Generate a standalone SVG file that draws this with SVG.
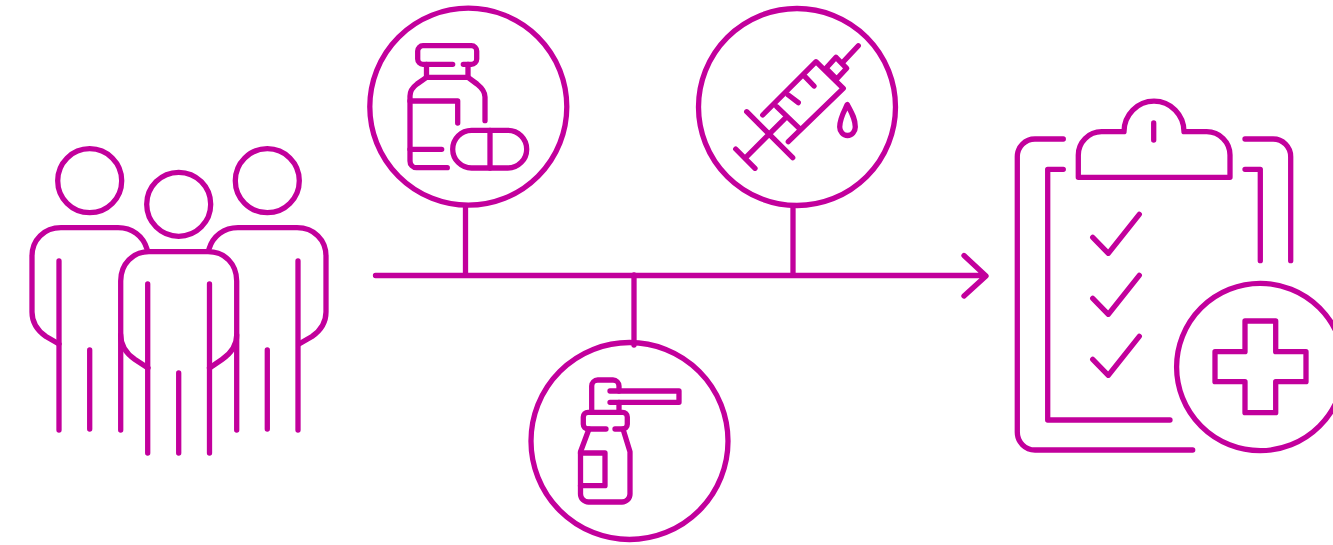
<svg xmlns="http://www.w3.org/2000/svg" width="1333" height="545" viewBox="0 0 1333 545">
<style>
.s{fill:none;stroke:#c2009c;stroke-width:5.300;stroke-linecap:round;stroke-linejoin:round}
</style>
<rect width="1333" height="545" fill="#fff"/>
<g id="connectors" class="s">
<path d="M375.500 275.500H985M964 255.500L986 276L964 296"/>
<path d="M465.500 207V275M793 207V275M634 275V345"/>
</g>
<g id="people" class="s">
<circle cx="89.700" cy="180.700" r="32"/>
<circle cx="178.700" cy="204.300" r="32"/>
<circle cx="267.300" cy="180.700" r="32"/>
<path d="M147 249C143 236 132 227.700 118 227.700H61C44 227.700 32 240 32 256V312C32 324 38 331 46 336.500L59 344"/>
<path d="M209 249C213 236 224 227.700 238 227.700H297C314 227.700 326 240 326 256V312C326 324 320 331 312 336.500L299 344"/>
<path d="M59 261V430M89.700 350V429M120.700 430V281C120.700 264 133 251.700 149 251.700H208C225 251.700 236.700 264 236.700 281V430"/>
<path d="M120.700 335C120.700 347 127 354 135 359.500L148 368M236.700 335C236.700 347 230 354 222 359.500L209.500 368"/>
<path d="M147.700 284V453M178.700 373V453M209.500 284V453M267.300 350V429M298 261V430"/>
</g>
<g id="vial-and-pill" class="s">
<circle cx="468.300" cy="106.700" r="98.500"/>
<path d="M452.700 64.300H423A5.300 5.300 0 0 1 417.700 59V51A5.300 5.300 0 0 1 423 45.700H471.400A5.300 5.300 0 0 1 476.700 51V59A5.300 5.300 0 0 1 471.400 64.300H463.300"/>
<path d="M426.500 64.300V77.300H468V64.300"/>
<path d="M426.500 77.300L417 84C413 87 410 91 410 96V161A6.500 6.500 0 0 0 416.500 167.700H447.300"/>
<path d="M468 77.300L477 84C482 88 485 92 485 97V120.700"/>
<path d="M410 101H457.700V123M410 149.300H441.700"/>
<rect x="452.700" y="130.300" width="74" height="37.700" rx="18.850"/>
<path d="M490 130.300V168"/>
</g>
<g id="syringe" class="s">
<circle cx="797" cy="107" r="98.500"/>
<path d="M858.300 45.700L843.300 61.700"/>
<path d="M836 57.300L846.700 68.300L836.700 79L826 68.300Z"/>
<path d="M762.700 115L816 61.700L843.300 88.300L788.300 141.700"/>
<path d="M805 76.700L814 86M788.300 95L798.300 102.700M776.700 106.700L799.300 128.300"/>
<path d="M785 118.300L746.700 156.700M746.700 111.700L792.700 157.700M735.700 149L755 168.300"/>
<path d="M847.300 104.500C843.500 112.500 839.700 118.500 839.700 127A7.800 8.500 0 0 0 855.300 127C855.300 118.500 851.500 112.500 847.300 104.500Z"/>
</g>
<g id="nasal-spray" class="s">
<circle cx="629.500" cy="441" r="98.500"/>
<path d="M591.700 412.300V386A6 6 0 0 1 597.700 380H613A6 6 0 0 1 619 386V391M619 402.300V412.300"/>
<path d="M610 391H679V402.300H610"/>
<path d="M606 429H588A4.700 4.700 0 0 1 583.300 424.300V417A4.700 4.700 0 0 1 588 412.300H622.600A4.700 4.700 0 0 1 627.300 417V424.300A4.700 4.700 0 0 1 622.600 429H615"/>
<path d="M589 429L580.500 451.700V494A8 8 0 0 0 588.500 502H622A8 8 0 0 0 630 494V451.700L623 429"/>
<path d="M580.500 453H605V485.700H580.500"/>
</g>
<g id="clipboard" class="s">
<path d="M1063.300 139H1035A17.700 17.700 0 0 0 1017.300 156.700V432.300A17.700 17.700 0 0 0 1035 450H1192.700"/>
<path d="M1245 139H1273A17.700 17.700 0 0 1 1290.700 156.700V260.700"/>
<path d="M1063.300 169.300H1047.700V420H1170"/>
<path d="M1245 169.300H1260.300V260.700"/>
<path d="M1078.300 177.300H1230V155A23.300 23.300 0 0 0 1206.700 131.700H1184A30 30.500 0 0 0 1124 131.700H1101.600A23.300 23.300 0 0 0 1078.300 155Z"/>
<path d="M1153.700 123V140"/>
<path d="M1092.700 237.300L1108.300 253.300L1139.300 214.300M1092.700 298.300L1108.300 314.300L1139.300 275.300M1092.700 359.300L1108.300 375.300L1139.300 336.300"/>
<circle cx="1260.300" cy="367" r="83.700"/>
<path d="M1245 321H1275.700V351.700H1306V381.700H1275.700V412.700H1245V381.700H1215V351.700H1245Z"/>
</g>
</svg>
